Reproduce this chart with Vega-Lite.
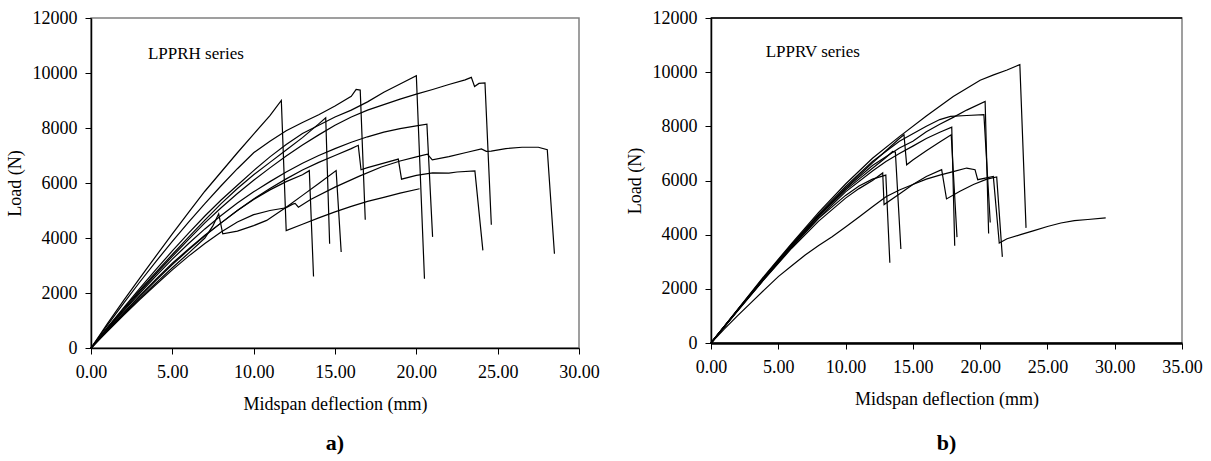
{
  "$schema": "https://vega.github.io/schema/vega-lite/v6.json",
  "background": "white",
  "padding": {"left": 5, "top": 8, "right": 5, "bottom": 5},
  "spacing": 25,
  "config": {
    "view": {"stroke": "#808080", "strokeWidth": 1.5},
    "axis": {
      "grid": false, "labelFlush": false,
      "labelFont": "Liberation Serif", "labelFontSize": 18, "labelColor": "black",
      "titleFont": "Liberation Serif", "titleFontSize": 18, "titleFontWeight": "normal", "titleColor": "black",
      "domainColor": "black", "tickColor": "black", "tickSize": 6, "domainWidth": 1.5, "tickWidth": 1
    },
    "title": {"font": "Liberation Serif", "fontSize": 22, "fontWeight": "bold", "color": "black"}
  },
  "datasets": {
    "left": [
      {"s":"L1","x":0,"y":0},{"s":"L1","x":1,"y":880},{"s":"L1","x":2,"y":1720},{"s":"L1","x":3,"y":2540},{"s":"L1","x":4,"y":3350},{"s":"L1","x":5,"y":4150},{"s":"L1","x":6,"y":4930},{"s":"L1","x":7,"y":5700},{"s":"L1","x":8,"y":6400},{"s":"L1","x":9,"y":7100},{"s":"L1","x":10,"y":7780},{"s":"L1","x":11,"y":8450},{"s":"L1","x":11.7,"y":9000},{"s":"L1","x":12.0,"y":4270},{"s":"L1","x":13,"y":4500},{"s":"L1","x":14,"y":4730},{"s":"L1","x":15,"y":4950},{"s":"L1","x":16,"y":5150},{"s":"L1","x":17,"y":5330},{"s":"L1","x":18,"y":5480},{"s":"L1","x":19,"y":5630},{"s":"L1","x":20.2,"y":5790},
      {"s":"L2","x":0,"y":0},{"s":"L2","x":1,"y":620},{"s":"L2","x":2,"y":1220},{"s":"L2","x":3,"y":1800},{"s":"L2","x":4,"y":2370},{"s":"L2","x":5,"y":2920},{"s":"L2","x":6,"y":3450},{"s":"L2","x":7,"y":4000},{"s":"L2","x":7.5,"y":4450},{"s":"L2","x":7.85,"y":4880},{"s":"L2","x":8.1,"y":4150},{"s":"L2","x":9,"y":4250},{"s":"L2","x":10,"y":4450},{"s":"L2","x":10.8,"y":4640},{"s":"L2","x":12,"y":5120},{"s":"L2","x":13,"y":5550},{"s":"L2","x":14,"y":5980},{"s":"L2","x":15.07,"y":6450},{"s":"L2","x":15.38,"y":3490},
      {"s":"L3","x":0,"y":0},{"s":"L3","x":1,"y":650},{"s":"L3","x":2,"y":1280},{"s":"L3","x":3,"y":1900},{"s":"L3","x":4,"y":2500},{"s":"L3","x":5,"y":3080},{"s":"L3","x":6,"y":3600},{"s":"L3","x":7,"y":4100},{"s":"L3","x":8,"y":4550},{"s":"L3","x":9,"y":5000},{"s":"L3","x":10,"y":5400},{"s":"L3","x":11,"y":5750},{"s":"L3","x":12,"y":6050},{"s":"L3","x":13,"y":6300},{"s":"L3","x":13.42,"y":6450},{"s":"L3","x":13.68,"y":2600},
      {"s":"L4","x":0,"y":0},{"s":"L4","x":1,"y":720},{"s":"L4","x":2,"y":1420},{"s":"L4","x":3,"y":2100},{"s":"L4","x":4,"y":2760},{"s":"L4","x":5,"y":3400},{"s":"L4","x":6,"y":4030},{"s":"L4","x":7,"y":4650},{"s":"L4","x":8,"y":5250},{"s":"L4","x":9,"y":5800},{"s":"L4","x":10,"y":6300},{"s":"L4","x":11,"y":6750},{"s":"L4","x":12,"y":7200},{"s":"L4","x":13,"y":7650},{"s":"L4","x":14,"y":8150},{"s":"L4","x":14.43,"y":8370},{"s":"L4","x":14.67,"y":3790},
      {"s":"L5","x":0,"y":0},{"s":"L5","x":1,"y":820},{"s":"L5","x":2,"y":1620},{"s":"L5","x":3,"y":2400},{"s":"L5","x":4,"y":3150},{"s":"L5","x":5,"y":3880},{"s":"L5","x":6,"y":4580},{"s":"L5","x":7,"y":5250},{"s":"L5","x":8,"y":5900},{"s":"L5","x":9,"y":6520},{"s":"L5","x":10,"y":7100},{"s":"L5","x":11,"y":7520},{"s":"L5","x":12,"y":7900},{"s":"L5","x":13,"y":8200},{"s":"L5","x":14,"y":8480},{"s":"L5","x":15,"y":8800},{"s":"L5","x":16,"y":9150},{"s":"L5","x":16.3,"y":9400},{"s":"L5","x":16.55,"y":9380},{"s":"L5","x":16.86,"y":4660},
      {"s":"L6","x":0,"y":0},{"s":"L6","x":1,"y":740},{"s":"L6","x":2,"y":1460},{"s":"L6","x":3,"y":2170},{"s":"L6","x":4,"y":2860},{"s":"L6","x":5,"y":3530},{"s":"L6","x":6,"y":4180},{"s":"L6","x":7,"y":4800},{"s":"L6","x":8,"y":5380},{"s":"L6","x":9,"y":5920},{"s":"L6","x":10,"y":6450},{"s":"L6","x":11,"y":6950},{"s":"L6","x":12,"y":7400},{"s":"L6","x":13,"y":7800},{"s":"L6","x":14,"y":8100},{"s":"L6","x":15,"y":8400},{"s":"L6","x":16,"y":8650},{"s":"L6","x":17,"y":8950},{"s":"L6","x":18,"y":9300},{"s":"L6","x":19,"y":9600},{"s":"L6","x":20.0,"y":9900},{"s":"L6","x":20.5,"y":2520},
      {"s":"L7","x":0,"y":0},{"s":"L7","x":1,"y":700},{"s":"L7","x":2,"y":1380},{"s":"L7","x":3,"y":2050},{"s":"L7","x":4,"y":2700},{"s":"L7","x":5,"y":3330},{"s":"L7","x":6,"y":3950},{"s":"L7","x":7,"y":4550},{"s":"L7","x":8,"y":5100},{"s":"L7","x":9,"y":5620},{"s":"L7","x":10,"y":6100},{"s":"L7","x":11,"y":6550},{"s":"L7","x":12,"y":6980},{"s":"L7","x":13,"y":7380},{"s":"L7","x":14,"y":7750},{"s":"L7","x":15,"y":8100},{"s":"L7","x":16,"y":8400},{"s":"L7","x":17,"y":8650},{"s":"L7","x":18,"y":8850},{"s":"L7","x":19,"y":9050},{"s":"L7","x":20,"y":9230},{"s":"L7","x":21,"y":9400},{"s":"L7","x":22,"y":9580},{"s":"L7","x":23,"y":9750},{"s":"L7","x":23.38,"y":9840},{"s":"L7","x":23.58,"y":9510},{"s":"L7","x":23.85,"y":9620},{"s":"L7","x":24.22,"y":9640},{"s":"L7","x":24.61,"y":4480},
      {"s":"L8","x":0,"y":0},{"s":"L8","x":1,"y":680},{"s":"L8","x":2,"y":1340},{"s":"L8","x":3,"y":1990},{"s":"L8","x":4,"y":2620},{"s":"L8","x":5,"y":3230},{"s":"L8","x":6,"y":3800},{"s":"L8","x":7,"y":4330},{"s":"L8","x":8,"y":4820},{"s":"L8","x":9,"y":5270},{"s":"L8","x":10,"y":5680},{"s":"L8","x":11,"y":6050},{"s":"L8","x":12,"y":6400},{"s":"L8","x":13,"y":6720},{"s":"L8","x":14,"y":7000},{"s":"L8","x":15,"y":7250},{"s":"L8","x":16,"y":7480},{"s":"L8","x":17,"y":7680},{"s":"L8","x":18,"y":7850},{"s":"L8","x":19,"y":7980},{"s":"L8","x":20,"y":8080},{"s":"L8","x":20.65,"y":8140},{"s":"L8","x":21.0,"y":4040},
      {"s":"L9","x":0,"y":0},{"s":"L9","x":1,"y":640},{"s":"L9","x":2,"y":1260},{"s":"L9","x":3,"y":1870},{"s":"L9","x":4,"y":2460},{"s":"L9","x":5,"y":3030},{"s":"L9","x":6,"y":3570},{"s":"L9","x":7,"y":4080},{"s":"L9","x":8,"y":4550},{"s":"L9","x":9,"y":5000},{"s":"L9","x":10,"y":5420},{"s":"L9","x":11,"y":5800},{"s":"L9","x":12,"y":6150},{"s":"L9","x":13,"y":6470},{"s":"L9","x":14,"y":6750},{"s":"L9","x":15,"y":7000},{"s":"L9","x":16,"y":7250},{"s":"L9","x":16.43,"y":7370},{"s":"L9","x":16.6,"y":6480},{"s":"L9","x":17,"y":6560},{"s":"L9","x":18,"y":6720},{"s":"L9","x":18.89,"y":6870},{"s":"L9","x":19.09,"y":6140},{"s":"L9","x":20,"y":6280},{"s":"L9","x":21,"y":6370},{"s":"L9","x":22,"y":6360},{"s":"L9","x":22.5,"y":6400},{"s":"L9","x":23.6,"y":6440},{"s":"L9","x":24.09,"y":3550},
      {"s":"L10","x":0,"y":0},{"s":"L10","x":1,"y":600},{"s":"L10","x":2,"y":1190},{"s":"L10","x":3,"y":1760},{"s":"L10","x":4,"y":2310},{"s":"L10","x":5,"y":2840},{"s":"L10","x":6,"y":3340},{"s":"L10","x":7,"y":3800},{"s":"L10","x":8,"y":4220},{"s":"L10","x":9,"y":4580},{"s":"L10","x":10,"y":4850},{"s":"L10","x":11,"y":5000},{"s":"L10","x":12,"y":5100},{"s":"L10","x":12.4,"y":5230},{"s":"L10","x":12.55,"y":5260},{"s":"L10","x":12.75,"y":5120},{"s":"L10","x":13.5,"y":5400},{"s":"L10","x":15,"y":5850},{"s":"L10","x":16.5,"y":6250},{"s":"L10","x":17.85,"y":6580},{"s":"L10","x":19,"y":6800},{"s":"L10","x":20,"y":6950},{"s":"L10","x":20.68,"y":7050},{"s":"L10","x":20.98,"y":6840},{"s":"L10","x":22,"y":6960},{"s":"L10","x":23,"y":7100},{"s":"L10","x":24.0,"y":7240},{"s":"L10","x":24.3,"y":7150},{"s":"L10","x":24.6,"y":7160},{"s":"L10","x":25.5,"y":7250},{"s":"L10","x":26.5,"y":7300},{"s":"L10","x":27.5,"y":7300},{"s":"L10","x":28.05,"y":7210},{"s":"L10","x":28.49,"y":3430}
    ],
    "right": [
      {"s":"RA","x":0,"y":0},{"s":"RA","x":1,"y":620},{"s":"RA","x":2,"y":1250},{"s":"RA","x":4,"y":2500},{"s":"RA","x":6,"y":3680},{"s":"RA","x":8,"y":4820},{"s":"RA","x":10,"y":5870},{"s":"RA","x":12,"y":6820},{"s":"RA","x":14,"y":7620},{"s":"RA","x":16,"y":8380},{"s":"RA","x":18,"y":9100},{"s":"RA","x":20,"y":9700},{"s":"RA","x":21,"y":9900},{"s":"RA","x":22,"y":10080},{"s":"RA","x":22.95,"y":10280},{"s":"RA","x":23.41,"y":4250},
      {"s":"RB","x":0,"y":0},{"s":"RB","x":2,"y":1230},{"s":"RB","x":4,"y":2440},{"s":"RB","x":6,"y":3600},{"s":"RB","x":8,"y":4700},{"s":"RB","x":10,"y":5700},{"s":"RB","x":12,"y":6550},{"s":"RB","x":14,"y":7200},{"s":"RB","x":15,"y":7450},{"s":"RB","x":16,"y":7800},{"s":"RB","x":17,"y":8080},{"s":"RB","x":18,"y":8330},{"s":"RB","x":19,"y":8600},{"s":"RB","x":20.37,"y":8920},{"s":"RB","x":20.63,"y":4040},
      {"s":"RC","x":0,"y":0},{"s":"RC","x":2,"y":1240},{"s":"RC","x":4,"y":2470},{"s":"RC","x":6,"y":3640},{"s":"RC","x":8,"y":4760},{"s":"RC","x":10,"y":5780},{"s":"RC","x":12,"y":6700},{"s":"RC","x":14,"y":7450},{"s":"RC","x":16,"y":8000},{"s":"RC","x":17,"y":8250},{"s":"RC","x":17.8,"y":8370},{"s":"RC","x":19,"y":8400},{"s":"RC","x":20.28,"y":8430},{"s":"RC","x":20.75,"y":4450},
      {"s":"RD","x":0,"y":0},{"s":"RD","x":2,"y":1210},{"s":"RD","x":4,"y":2400},{"s":"RD","x":6,"y":3550},{"s":"RD","x":8,"y":4620},{"s":"RD","x":10,"y":5580},{"s":"RD","x":12,"y":6350},{"s":"RD","x":13,"y":6700},{"s":"RD","x":14,"y":7000},{"s":"RD","x":15,"y":7270},{"s":"RD","x":16,"y":7550},{"s":"RD","x":17,"y":7780},{"s":"RD","x":17.89,"y":7970},{"s":"RD","x":18.11,"y":3590},
      {"s":"RE","x":0,"y":0},{"s":"RE","x":2,"y":1230},{"s":"RE","x":4,"y":2450},{"s":"RE","x":6,"y":3620},{"s":"RE","x":8,"y":4720},{"s":"RE","x":10,"y":5720},{"s":"RE","x":12,"y":6650},{"s":"RE","x":13,"y":7100},{"s":"RE","x":14,"y":7550},{"s":"RE","x":14.34,"y":7690},{"s":"RE","x":14.54,"y":6580},{"s":"RE","x":15,"y":6760},{"s":"RE","x":16,"y":7100},{"s":"RE","x":17,"y":7420},{"s":"RE","x":17.85,"y":7690},{"s":"RE","x":18.28,"y":3910},
      {"s":"RF","x":0,"y":0},{"s":"RF","x":2,"y":1220},{"s":"RF","x":4,"y":2420},{"s":"RF","x":6,"y":3580},{"s":"RF","x":8,"y":4680},{"s":"RF","x":10,"y":5650},{"s":"RF","x":11,"y":6050},{"s":"RF","x":12,"y":6450},{"s":"RF","x":13,"y":6850},{"s":"RF","x":13.5,"y":7070},{"s":"RF","x":13.7,"y":7050},{"s":"RF","x":14.11,"y":3470},
      {"s":"RG","x":0,"y":0},{"s":"RG","x":2,"y":1200},{"s":"RG","x":4,"y":2380},{"s":"RG","x":6,"y":3500},{"s":"RG","x":8,"y":4500},{"s":"RG","x":10,"y":5350},{"s":"RG","x":11,"y":5700},{"s":"RG","x":12,"y":6000},{"s":"RG","x":12.76,"y":6280},{"s":"RG","x":12.86,"y":5110},{"s":"RG","x":14,"y":5500},{"s":"RG","x":15,"y":5850},{"s":"RG","x":16,"y":6150},{"s":"RG","x":17.14,"y":6400},{"s":"RG","x":17.5,"y":5320},{"s":"RG","x":18.5,"y":5600},{"s":"RG","x":19.5,"y":5850},{"s":"RG","x":20.5,"y":6050},{"s":"RG","x":21.23,"y":6130},{"s":"RG","x":21.65,"y":3180},
      {"s":"RH","x":0,"y":0},{"s":"RH","x":2,"y":1210},{"s":"RH","x":4,"y":2400},{"s":"RH","x":6,"y":3540},{"s":"RH","x":8,"y":4600},{"s":"RH","x":10,"y":5450},{"s":"RH","x":11,"y":5800},{"s":"RH","x":12,"y":6050},{"s":"RH","x":12.99,"y":6200},{"s":"RH","x":13.29,"y":2960},
      {"s":"RI","x":0,"y":0},{"s":"RI","x":1,"y":520},{"s":"RI","x":2,"y":1020},{"s":"RI","x":3,"y":1500},{"s":"RI","x":4,"y":1980},{"s":"RI","x":5,"y":2450},{"s":"RI","x":6,"y":2850},{"s":"RI","x":7,"y":3250},{"s":"RI","x":8,"y":3600},{"s":"RI","x":9,"y":3920},{"s":"RI","x":10,"y":4280},{"s":"RI","x":11,"y":4650},{"s":"RI","x":12,"y":5030},{"s":"RI","x":13,"y":5400},{"s":"RI","x":14,"y":5650},{"s":"RI","x":15,"y":5850},{"s":"RI","x":16,"y":6050},{"s":"RI","x":17,"y":6200},{"s":"RI","x":18,"y":6330},{"s":"RI","x":19.0,"y":6460},{"s":"RI","x":19.62,"y":6400},{"s":"RI","x":19.82,"y":6030},{"s":"RI","x":20.98,"y":6150},{"s":"RI","x":21.42,"y":3690},{"s":"RI","x":22,"y":3850},{"s":"RI","x":23,"y":4000},{"s":"RI","x":24,"y":4150},{"s":"RI","x":25,"y":4300},{"s":"RI","x":26,"y":4430},{"s":"RI","x":27,"y":4520},{"s":"RI","x":28,"y":4560},{"s":"RI","x":29.33,"y":4620}
    ]
  },
  "hconcat": [
    {
      "width": 488, "height": 330,
      "title": {"text": "a)", "orient": "bottom", "anchor": "middle", "frame": "group", "offset": 20},
      "layer": [
        {
          "data": {"name": "left"},
          "mark": {"type": "line", "color": "black", "strokeWidth": 1.2},
          "encoding": {
            "x": {"field": "x", "type": "quantitative", "scale": {"domain": [0, 30], "nice": false}, "axis": {"title": "Midspan deflection (mm)", "values": [0,5,10,15,20,25,30], "format": ".2f", "labelPadding": 9, "titlePadding": 14}},
            "y": {"field": "y", "type": "quantitative", "scale": {"domain": [0, 12000], "nice": false}, "axis": {"title": "Load (N)", "values": [0,2000,4000,6000,8000,10000,12000], "format": "d", "labelPadding": 8, "titlePadding": 8}},
            "detail": {"field": "s"}
          }
        },
        {
          "data": {"values": [{"t": "LPPRH series", "x": 3.5, "y": 10700}]},
          "mark": {"type": "text", "align": "left", "baseline": "middle", "font": "Liberation Serif", "fontSize": 17, "color": "black"},
          "encoding": {"x": {"field": "x", "type": "quantitative"}, "y": {"field": "y", "type": "quantitative"}, "text": {"field": "t"}}
        }
      ]
    },
    {
      "width": 471, "height": 325,
      "title": {"text": "b)", "orient": "bottom", "anchor": "middle", "frame": "group", "offset": 25},
      "layer": [
        {
          "data": {"name": "right"},
          "mark": {"type": "line", "color": "black", "strokeWidth": 1.2},
          "encoding": {
            "x": {"field": "x", "type": "quantitative", "scale": {"domain": [0, 35], "nice": false}, "axis": {"title": "Midspan deflection (mm)", "values": [0,5,10,15,20,25,30,35], "format": ".2f", "labelPadding": 9, "titlePadding": 14, "domainWidth": 2.5}},
            "y": {"field": "y", "type": "quantitative", "scale": {"domain": [0, 12000], "nice": false}, "axis": {"title": "Load (N)", "values": [0,2000,4000,6000,8000,10000,12000], "format": "d", "labelPadding": 8, "titlePadding": 8}},
            "detail": {"field": "s"}
          }
        },
        {
          "data": {"values": [{"t": "LPPRV series", "x": 4.06, "y": 10745}]},
          "mark": {"type": "text", "align": "left", "baseline": "middle", "font": "Liberation Serif", "fontSize": 17, "color": "black"},
          "encoding": {"x": {"field": "x", "type": "quantitative"}, "y": {"field": "y", "type": "quantitative"}, "text": {"field": "t"}}
        },
        {
          "data": {"values": [{"top": 12000}]},
          "mark": {"type": "rule", "color": "black", "strokeWidth": 1.5},
          "encoding": {"y": {"field": "top", "type": "quantitative"}}
        }
      ]
    }
  ]
}
